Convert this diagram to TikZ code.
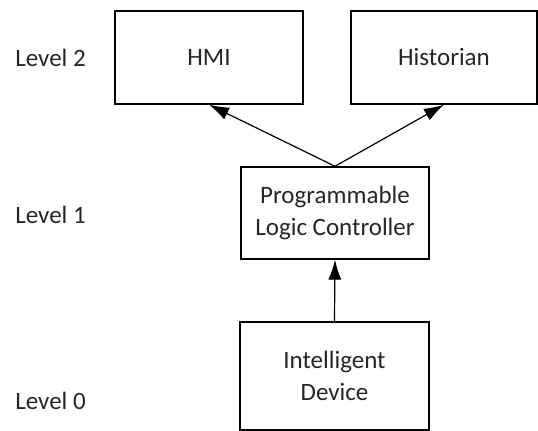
\documentclass[tikz,border=0pt]{standalone}
\usepackage{fontspec}
\setmainfont{Carlito}
\usetikzlibrary{arrows.meta}
\usetikzlibrary{math}

\tikzset{
  blk/.style={draw, line width=0.7pt, minimum width=94pt, align=center, text=black!85, font=\fontsize{12.5}{16}\selectfont},
  lvl/.style={anchor=west, inner sep=0pt, text=black!85, font=\fontsize{12.5}{16}\selectfont},
  link/.style={-{Latex[length=10pt,width=6.5pt]}, line width=0.6pt}
}

\begin{document}
\begin{tikzpicture}[x=0.5pt,y=-0.5pt]
\tikzmath{
\bh=46.5;
\bhd=54;
}
\useasboundingbox (0,0) rectangle (538,431);

% level 2
\node[blk, minimum height=\bh*1pt] (hmi) at (209,57.5) {HMI};
\node[blk, minimum width=93pt, minimum height=\bh*1pt] (hist) at (444,57.5) {Historian};
% level 1
\node[blk, minimum height=46pt] (plc) at (335,213) {Programmable\\Logic Controller};
% level 0
\node[blk, minimum width=94.5pt, minimum height=\bhd*1pt] (dev) at (334.5,376) {Intelligent\\Device};

\node[lvl] (lv2) at (15,58) {Level 2};
\node[lvl] (lv1) at (15,215) {Level 1};
\node[lvl] (lv0) at (15,401) {Level 0};

\draw[link] (plc.north) -- (hmi.south);
\draw[link] (plc.north) -- (hist.south);
\draw[link] (dev.north) -- (plc.south);

\end{tikzpicture}
\end{document}
